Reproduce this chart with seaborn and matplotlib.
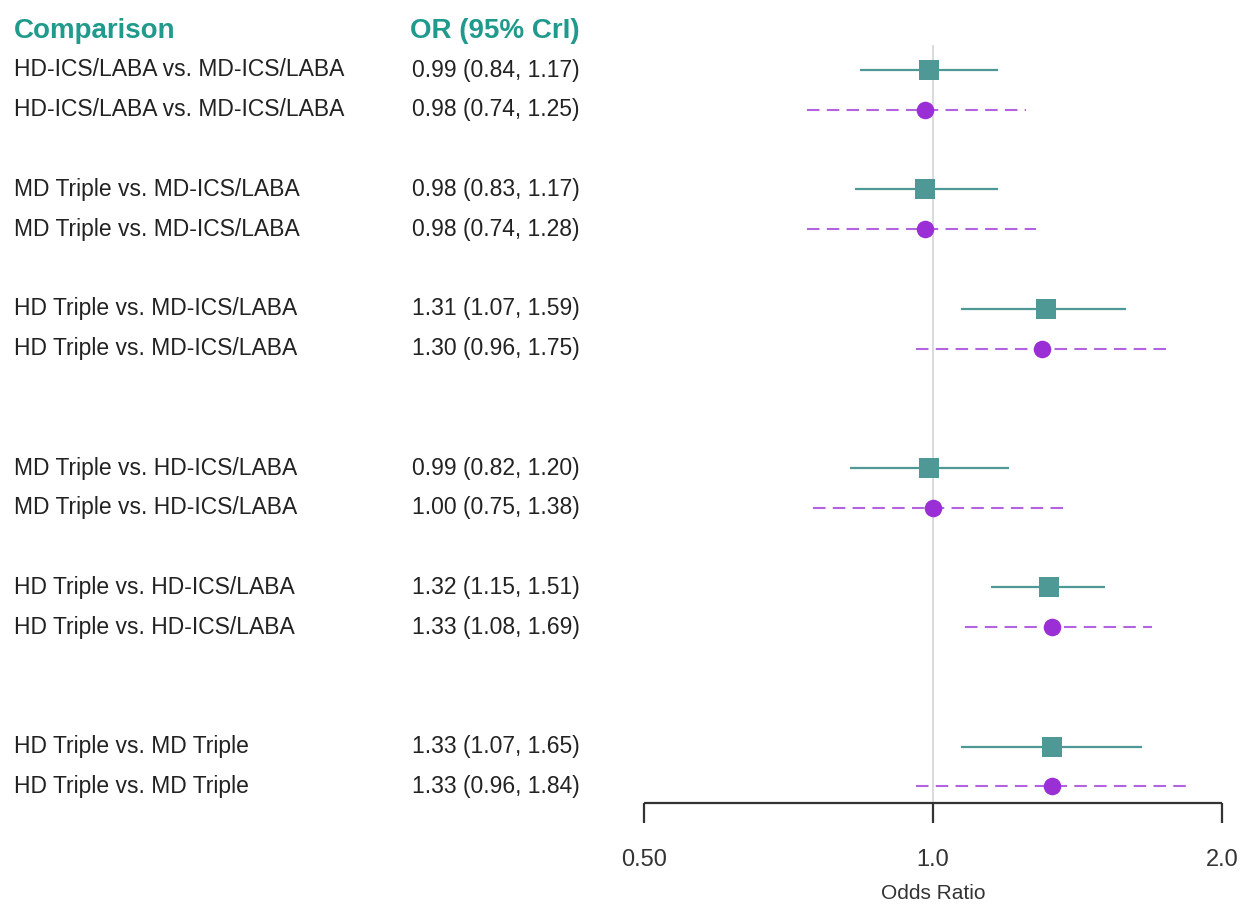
import numpy as np
import pandas as pd
import matplotlib
matplotlib.use("Agg")
import matplotlib.pyplot as plt
import matplotlib.transforms as mtransforms
import seaborn as sns

# data
comparisons = [
    "HD-ICS/LABA vs. MD-ICS/LABA",
    "MD Triple vs. MD-ICS/LABA",
    "HD Triple vs. MD-ICS/LABA",
    "MD Triple vs. HD-ICS/LABA",
    "HD Triple vs. HD-ICS/LABA",
    "HD Triple vs. MD Triple",
]
rows_a = [0, 3, 6, 10, 13, 17]
rows_b = [1, 4, 7, 11, 14, 18]

or_a = [0.99, 0.98, 1.31, 0.99, 1.32, 1.33]
lo_a = [0.84, 0.83, 1.07, 0.82, 1.15, 1.07]
hi_a = [1.17, 1.17, 1.59, 1.20, 1.51, 1.65]

or_b = [0.98, 0.98, 1.30, 1.00, 1.33, 1.33]
lo_b = [0.74, 0.74, 0.96, 0.75, 1.08, 0.96]
hi_b = [1.25, 1.28, 1.75, 1.38, 1.69, 1.84]

x_ticks = [0.5, 1.0, 2.0]
x_tick_labels = ["0.50", "1.0", "2.0"]

teal = "#4e9896"
purple = "#9a2fd6"
header_col = "#1f9a8c"

df = pd.DataFrame({
    "row": rows_a + rows_b,
    "OR": or_a + or_b,
    "lo": lo_a + lo_b,
    "hi": hi_a + hi_b,
    "label": comparisons + comparisons,
    "model": ["A"] * 6 + ["B"] * 6,
})

sns.set_style("white")
plt.rcParams["font.family"] = ["Liberation Sans", "DejaVu Sans"]

W, H = 1249, 913
fig = plt.figure(figsize=(W / 100, H / 100), dpi=100)
ax = fig.add_axes([0, 0, 1, 1])
ax.set_xscale("log", base=2)

# pixel mapping: 1.0 at x=933, 289 px per doubling; row 0 at y=70, 39.8 px per row
px1, ppd = 933, 289
y0, step = 70, 39.8
ax.set_xlim(2 ** (-px1 / ppd), 2 ** ((W - px1) / ppd))
ax.set_ylim((H - y0) / step, -y0 / step)
ax.axis("off")

def row_of(py):
    return (py - y0) / step

# reference line
ax.vlines(1.0, row_of(45), row_of(803), color="#d5d9d9", lw=1.3, zorder=1)

# intervals
a = df[df.model == "A"]
b = df[df.model == "B"]
ax.hlines(a["row"], a["lo"], a["hi"], color=teal, lw=1.6, zorder=2)
ax.hlines(b["row"], b["lo"], b["hi"], color=purple, lw=1.5,
          linestyles=(0, (6, 3.5)), alpha=0.75, zorder=2)

# point estimates
sns.scatterplot(data=a, x="OR", y="row", marker="s", s=190,
                color=teal, edgecolor=teal, linewidth=0, ax=ax, zorder=3, legend=False)
sns.scatterplot(data=b, x="OR", y="row", marker="o", s=160,
                color=purple, edgecolor=purple, linewidth=0, ax=ax, zorder=3, legend=False)

# x axis
ax_y = row_of(803)
tick_y = row_of(823)
ax.plot([0.5, 2.0], [ax_y, ax_y], color="#333333", lw=1.6, solid_capstyle="butt")
ax.vlines(x_ticks, ax_y, tick_y, color="#333333", lw=1.6)
for t, lab in zip(x_ticks, x_tick_labels):
    ax.text(t, row_of(860), lab, ha="center", va="center", fontsize=17, color="#333333")
ax.text(1.0, row_of(893), "Odds Ratio", ha="center", va="center", fontsize=15, color="#333333")

# text columns
trans = mtransforms.blended_transform_factory(ax.transAxes, ax.transData)
ax.text(14 / W, row_of(31), "Comparison", transform=trans, ha="left", va="center",
        fontsize=20, fontweight="bold", color=header_col)
ax.text(580 / W, row_of(31), "OR (95% CrI)", transform=trans, ha="right", va="center",
        fontsize=20, fontweight="bold", color=header_col)
for _, r in df.iterrows():
    ax.text(14 / W, r["row"], r["label"], transform=trans, ha="left", va="center",
            fontsize=16.5, color="#222222")
    ax.text(580 / W, r["row"], f"{r['OR']:.2f} ({r['lo']:.2f}, {r['hi']:.2f})",
            transform=trans, ha="right", va="center", fontsize=16.5, color="#222222")

fig.savefig("out.png", dpi=100)
